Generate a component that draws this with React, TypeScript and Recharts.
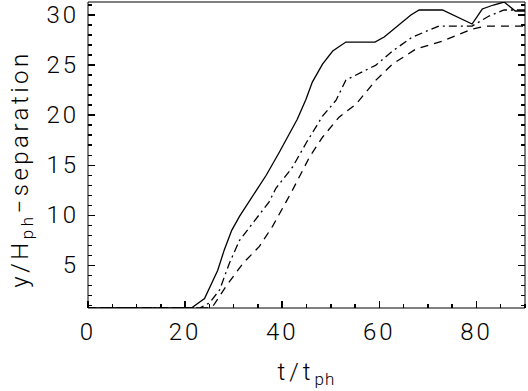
import { LineChart, Line, XAxis, YAxis, Label } from 'recharts';

// t / t_ph sample positions and separation values
const solidT = [0, 21.3, 24.0, 26.7, 28.1, 29.6, 31.2, 33.2, 36.7, 39.4, 43.1, 44.9, 46.2, 48.3, 50.4, 53.1, 59.1, 61.0, 66.5, 68.2, 73.0, 79.1, 81.2, 83.5, 85.7, 88.0, 90];
const solidY = [0.75, 0.75, 1.7, 4.5, 6.6, 8.5, 9.9, 11.4, 14.0, 16.3, 19.6, 21.6, 23.3, 25.1, 26.4, 27.3, 27.3, 27.8, 30.0, 30.5, 30.5, 29.1, 30.6, 31.0, 31.3, 30.4, 30.4];

const dashDotT = [0, 23.0, 25.0, 27.1, 29.1, 31.2, 33.9, 37.3, 38.7, 42.1, 44.9, 48.3, 51.1, 53.1, 59.3, 62.7, 66.8, 72.3, 79.1, 82.6, 85.7, 90];
const dashDotY = [0.75, 0.75, 1.25, 2.55, 5.2, 7.5, 9.2, 11.35, 12.7, 14.8, 17.2, 19.9, 21.5, 23.5, 25.0, 26.4, 27.8, 28.9, 28.9, 29.9, 30.5, 30.5];

const dashedT = [0, 25.0, 25.7, 28.4, 31.9, 35.3, 38.0, 40.8, 42.1, 45.6, 48.3, 51.7, 55.2, 59.3, 62.7, 67.5, 73.0, 79.1, 82.0, 90];
const dashedY = [0.75, 0.75, 0.9, 2.9, 5.2, 6.9, 8.9, 11.35, 12.5, 15.8, 17.8, 19.8, 21.1, 23.5, 25.1, 26.6, 27.4, 28.6, 28.9, 28.9];

const xTicks = [0, 5, 10, 15, 20, 25, 30, 35, 40, 45, 50, 55, 60, 65, 70, 75, 80, 85, 90];
const xLabels = [0, 20, 40, 60, 80];
const yTicks = [1, 2, 3, 4, 5, 6, 7, 8, 9, 10, 11, 12, 13, 14, 15, 16, 17, 18, 19, 20, 21, 22, 23, 24, 25, 26, 27, 28, 29, 30, 31];
const yLabels = [5, 10, 15, 20, 25, 30];

const X_DOMAIN: [number, number] = [0, 90];
const Y_DOMAIN: [number, number] = [0.75, 31.3];

const FONT = 'Roboto, "DejaVu Sans", sans-serif';
const WEIGHT = 300;
const INK = '#000';

const toPoints = (t: number[], y: number[]) => t.map((v, i) => ({ t: v, y: y[i] }));

const solidData = toPoints(solidT, solidY);
const dashDotData = toPoints(dashDotT, dashDotY);
const dashedData = toPoints(dashedT, dashedY);

// ticks point inward, like the IDL box axes
function TickMark({ x1, y1, x2, y2 }: { x1: number; y1: number; x2: number; y2: number }) {
  return <line x1={x1} y1={y1} x2={x2} y2={y2} stroke={INK} strokeWidth={1.5} shapeRendering="crispEdges" />;
}

function BottomTick(props: any) {
  const { x, y, payload } = props;
  const major = payload.value % 20 === 0;
  return (
    <g>
      <TickMark x1={x} x2={x} y1={y} y2={y - (major ? 7 : 4)} />
      {xLabels.includes(payload.value) && (
        <text x={x} y={y + 32} textAnchor="middle" fontFamily={FONT} fontWeight={WEIGHT} fontSize={24} letterSpacing={3} fill={INK}>
          {payload.value}
        </text>
      )}
    </g>
  );
}

function TopTick(props: any) {
  const { x, y, payload } = props;
  const major = payload.value % 20 === 0;
  return <TickMark x1={x} x2={x} y1={y} y2={y + (major ? 7 : 4)} />;
}

function LeftTick(props: any) {
  const { x, y, payload } = props;
  const major = payload.value % 5 === 0;
  return (
    <g>
      <TickMark x1={x} x2={x + (major ? 7 : 4)} y1={y} y2={y} />
      {yLabels.includes(payload.value) && (
        <text x={x - 9} y={y + 8} textAnchor="end" fontFamily={FONT} fontWeight={WEIGHT} fontSize={24} letterSpacing={3} fill={INK}>
          {payload.value}
        </text>
      )}
    </g>
  );
}

function RightTick(props: any) {
  const { x, y, payload } = props;
  const major = payload.value % 5 === 0;
  return <TickMark x1={x} x2={x - (major ? 7 : 4)} y1={y} y2={y} />;
}

function YTitle(props: any) {
  const vb = props.viewBox ?? { x: 0, y: 2, width: 88, height: 306 };
  const cx = vb.x + 28;
  const cy = vb.y + vb.height / 2 + 14;
  return (
    <text
      x={cx}
      y={cy}
      transform={`rotate(-90 ${cx} ${cy})`}
      textAnchor="middle"
      fontFamily={FONT}
      fontWeight={WEIGHT}
      fontSize={24}
      letterSpacing={3.5}
      fill={INK}
    >
      y/H
      <tspan fontSize={17} dy={5}>ph</tspan>
      <tspan dy={-5}>−separation</tspan>
    </text>
  );
}

function XTitle(props: any) {
  const vb = props.viewBox ?? { x: 88, y: 308, width: 437, height: 83 };
  const cx = vb.x + vb.width / 2;
  const cy = vb.y + 72;
  return (
    <text x={cx} y={cy} textAnchor="middle" fontFamily={FONT} fontWeight={WEIGHT} fontSize={24} letterSpacing={4} fill={INK}>
      t/t
      <tspan fontSize={17} letterSpacing={1} dy={5}>ph</tspan>
    </text>
  );
}

export default function App() {
  return (
    <div style={{ position: 'absolute', left: 0, top: 0, background: '#fff' }}>
      <LineChart width={528} height={391} margin={{ top: 1, right: 0, bottom: 0, left: 0 }}>
        <XAxis
          dataKey="t"
          type="number"
          domain={X_DOMAIN}
          allowDataOverflow
          ticks={xTicks}
          interval={0}
          tickSize={0}
          tickMargin={0}
          tickLine={false}
          tick={BottomTick}
          height={83}
          axisLine={{ stroke: INK }}
        >
          <Label content={XTitle} />
        </XAxis>
        <XAxis
          xAxisId="top"
          orientation="top"
          type="number"
          domain={X_DOMAIN}
          allowDataOverflow
          ticks={xTicks}
          interval={0}
          tickSize={0}
          tickMargin={0}
          tickLine={false}
          tick={TopTick}
          height={1}
          axisLine={{ stroke: INK }}
        />
        <YAxis
          type="number"
          domain={Y_DOMAIN}
          allowDataOverflow
          ticks={yTicks}
          interval={0}
          tickSize={0}
          tickMargin={0}
          tickLine={false}
          tick={LeftTick}
          width={88}
          axisLine={{ stroke: INK }}
        >
          <Label content={YTitle} />
        </YAxis>
        <YAxis
          yAxisId="right"
          orientation="right"
          type="number"
          domain={Y_DOMAIN}
          allowDataOverflow
          ticks={yTicks}
          interval={0}
          tickSize={0}
          tickMargin={0}
          tickLine={false}
          tick={RightTick}
          width={3}
          axisLine={{ stroke: INK }}
        />
        <Line data={solidData} dataKey="y" type="linear" stroke={INK} strokeWidth={1.3} dot={false} isAnimationActive={false} />
        <Line data={dashDotData} dataKey="y" type="linear" stroke={INK} strokeWidth={1.3} strokeDasharray="8 4 2 4" dot={false} isAnimationActive={false} />
        <Line data={dashedData} dataKey="y" type="linear" stroke={INK} strokeWidth={1.3} strokeDasharray="8 6" dot={false} isAnimationActive={false} />
      </LineChart>
    </div>
  );
}
